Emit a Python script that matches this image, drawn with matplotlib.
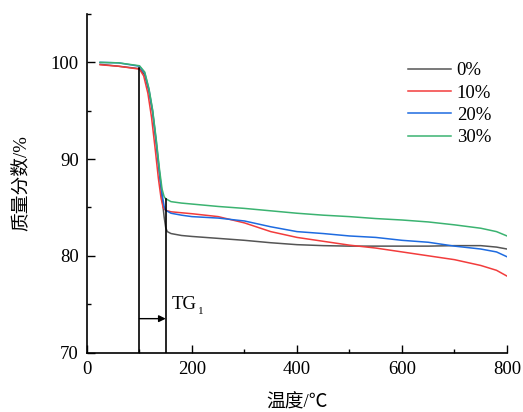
import matplotlib
matplotlib.use("Agg")
import matplotlib.pyplot as plt
from matplotlib.ticker import MultipleLocator

plt.rcParams['font.family'] = ['Liberation Serif', 'Noto Sans CJK SC']

labels = ['0%', '10%', '20%', '30%']
colors = ['#555555', '#f23c3c', '#1e6be0', '#3bb371']

t0 = [25, 60, 100, 110, 118, 125, 132, 138, 143, 147, 150, 153, 160, 180, 200, 250, 300, 350, 400, 450, 500, 550, 600, 650, 700, 750, 780, 800]
w0 = [99.8, 99.6, 99.35, 98.7, 97.0, 94.8, 91.5, 88.5, 86.0, 84.0, 82.9, 82.5, 82.3, 82.1, 82.0, 81.8, 81.6, 81.35, 81.15, 81.05, 81.0, 81.0, 81.0, 81.0, 81.05, 81.05, 80.9, 80.7]

t1 = [25, 60, 100, 108, 116, 123, 130, 136, 141, 145, 148, 150, 160, 180, 200, 250, 300, 350, 400, 450, 500, 550, 600, 650, 700, 750, 780, 800]
w1 = [99.75, 99.6, 99.3, 98.6, 96.8, 94.3, 91.0, 88.0, 86.0, 85.0, 84.8, 84.7, 84.55, 84.45, 84.35, 84.05, 83.4, 82.5, 81.9, 81.5, 81.1, 80.8, 80.4, 80.0, 79.6, 79.0, 78.5, 77.9]

t2 = [25, 60, 100, 110, 118, 125, 132, 138, 143, 147, 150, 160, 180, 200, 250, 300, 350, 400, 450, 500, 550, 600, 650, 700, 750, 780, 800]
w2 = [100.0, 99.95, 99.6, 98.9, 97.2, 95.0, 91.8, 88.7, 86.4, 85.1, 84.7, 84.4, 84.2, 84.05, 83.9, 83.6, 83.0, 82.5, 82.3, 82.05, 81.9, 81.6, 81.4, 81.0, 80.7, 80.4, 79.9]

t3 = [25, 60, 100, 110, 118, 125, 132, 138, 143, 147, 150, 160, 180, 200, 250, 300, 350, 400, 450, 500, 550, 600, 650, 700, 750, 780, 800]
w3 = [100.0, 99.95, 99.65, 99.0, 97.3, 95.1, 92.0, 89.0, 86.9, 86.1, 85.9, 85.6, 85.45, 85.35, 85.1, 84.9, 84.65, 84.4, 84.2, 84.05, 83.85, 83.7, 83.5, 83.2, 82.85, 82.5, 82.05]

series_t = [t0, t1, t2, t3]
series_w = [w0, w1, w2, w3]

xticks = [0, 200, 400, 600, 800]
yticks = [70, 80, 90, 100]

tg_start, tg_end = 100, 150
tg_top_start, tg_top_end = 99.45, 85.9
arrow_y = 73.5

fig = plt.figure(figsize=(5.23, 4.12), dpi=100)
ax = fig.add_axes([0.1663, 0.1444, 0.8031, 0.8216])

for t, w, c, lab in zip(series_t, series_w, colors, labels):
    ax.plot(t, w, color=c, lw=1.1, label=lab)

ax.plot([tg_start, tg_start], [70, tg_top_start], color='black', lw=1.2)
ax.plot([tg_end, tg_end], [70, tg_top_end], color='black', lw=1.2)
ax.annotate('', xy=(tg_end, arrow_y), xytext=(tg_start, arrow_y),
            arrowprops=dict(arrowstyle='-|>', color='black', lw=1.0,
                            mutation_scale=10, shrinkA=0, shrinkB=0))
ax.text(162, 75.0, 'TG', fontsize=13.5, ha='left', va='center')
ax.text(211, 74.2, '1', fontsize=8, ha='left', va='center')

ax.set_xlim(0, 800)
ax.set_ylim(70, 105)
ax.set_xticks(xticks)
ax.set_yticks(yticks)
ax.xaxis.set_minor_locator(MultipleLocator(100))
ax.yaxis.set_minor_locator(MultipleLocator(5))
ax.tick_params(which='major', direction='in', length=6, width=1, labelsize=13.5, pad=6)
ax.tick_params(which='minor', direction='in', length=3, width=1)
ax.spines['top'].set_visible(False)
ax.spines['right'].set_visible(False)
for s in ['left', 'bottom']:
    ax.spines[s].set_linewidth(1.2)

ax.set_xlabel('温度/℃', fontsize=13.5, labelpad=12)
ax.set_ylabel('质量分数/%', fontsize=13.5, labelpad=15)

leg = ax.legend(loc='upper right', bbox_to_anchor=(0.98, 0.88), frameon=False,
                fontsize=13.5, handlelength=2.3, handletextpad=0.3,
                labelspacing=0.28, borderaxespad=0)

fig.savefig('out.png', dpi=100)
